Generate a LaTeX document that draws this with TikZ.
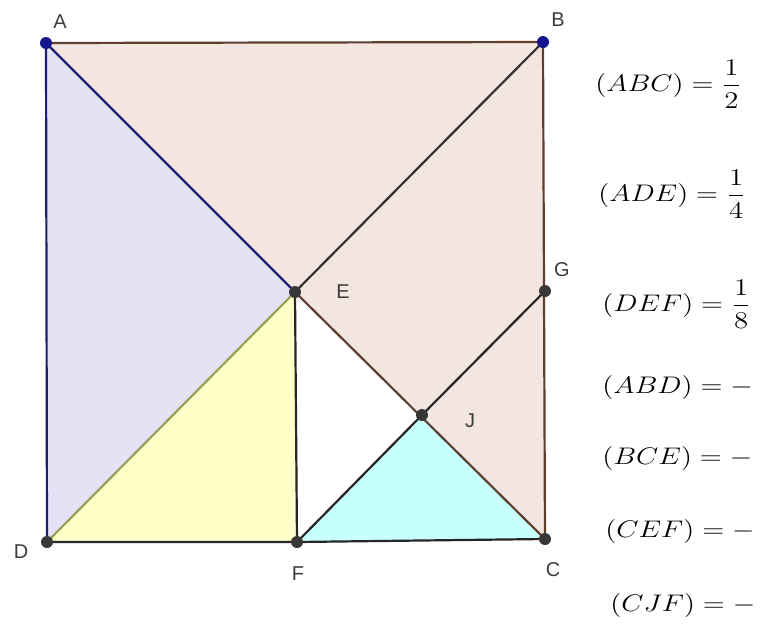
\documentclass[tikz,border=0pt]{standalone}
\usepackage{amsmath}
\usepackage{fontspec}
\setsansfont{Liberation Sans}
\usetikzlibrary{positioning}
\definecolor{bigfill}{RGB}{243,229,223}
\definecolor{leftfill}{RGB}{227,227,245}
\definecolor{yelfill}{RGB}{255,255,200}
\definecolor{cyanfill}{RGB}{200,255,255}
\definecolor{brownline}{RGB}{95,62,45}
\definecolor{navyline}{RGB}{30,30,110}
\definecolor{oliveline}{RGB}{150,160,90}
\definecolor{darkpt}{RGB}{55,55,55}
\definecolor{bluept}{RGB}{20,20,140}
\definecolor{lblgray}{RGB}{60,60,60}
\newcommand{\wideeq}[1]{\scalebox{1.2}[1]{$\displaystyle #1$}}

\begin{document}
\begin{tikzpicture}[
    x=0.5pt, y=-0.5pt,
    seg/.style={line width=1.1pt},
    lbl/.style={font=\sffamily\fontsize{10}{12}\selectfont, text=lblgray},
    eq/.style={anchor=west, font=\large, inner sep=0pt},
]
    \path[use as bounding box] (0,0) rectangle (762,628);

    % Points
    \coordinate (A) at (46,43);
    \coordinate (B) at (543,42);
    \coordinate (C) at (545,539);
    \coordinate (D) at (47,542);
    \coordinate (E) at (295,292);
    \coordinate (F) at (297,542);
    \coordinate (G) at (545,291);
    \coordinate (J) at (422,415);

    % Regions
    \fill[bigfill]  (A) -- (B) -- (C) -- cycle;
    \fill[leftfill] (A) -- (D) -- (E) -- cycle;
    \fill[yelfill]  (D) -- (E) -- (F) -- cycle;
    \fill[cyanfill] (F) -- (J) -- (C) -- cycle;
    \fill[white]    (E) -- (J) -- (F) -- cycle;

    % Segments
    \draw[seg, brownline] (A) -- (B) -- (C);
    \draw[seg, navyline] (D) -- (A) -- (E);
    \draw[seg, brownline] (E) -- (C);
    \draw[seg, black!80] (B) -- (E);
    \draw[seg, oliveline] (D) -- (E);
    \draw[seg, black!85] (E) -- (F);
    \draw[seg, black!85] (D) -- (F) -- (C);
    \draw[seg, black!85] (F) -- (J) -- (G);

    % Dots
    \foreach \p in {A,B} \fill[bluept] (\p) circle (3pt);
    \foreach \p in {C,D,E,F,G,J} \fill[darkpt] (\p) circle (3pt);

    % Labels
    \node[lbl] (lA) at (60,22)   {A};
    \node[lbl] (lB) at (558,20)  {B};
    \node[lbl] (lC) at (553,570) {C};
    \node[lbl] (lD) at (21,552)  {D};
    \node[lbl] (lE) at (343,292) {E};
    \node[lbl] (lF) at (298,574) {F};
    \node[lbl] (lG) at (562,270) {G};
    \node[lbl] (lJ) at (470,421) {J};

    % Areas
    \node[eq] (eqABC) at (595,84)  {\wideeq{(ABC)=\frac{1}{2}}};
    \node[eq] (eqADE) at (598,194) {\wideeq{(ADE)=\frac{1}{4}}};
    \node[eq] (eqDEF) at (602,304) {\wideeq{(DEF)=\frac{1}{8}}};
    \node[eq] (eqABD) at (602,387) {\wideeq{(ABD)=-}};
    \node[eq] (eqBCE) at (602,458) {\wideeq{(BCE)=-}};
    \node[eq] (eqCEF) at (605,531) {\wideeq{(CEF)=-}};
    \node[eq] (eqCJF) at (610,605) {\wideeq{(CJF)=-}};
\end{tikzpicture}
\end{document}
